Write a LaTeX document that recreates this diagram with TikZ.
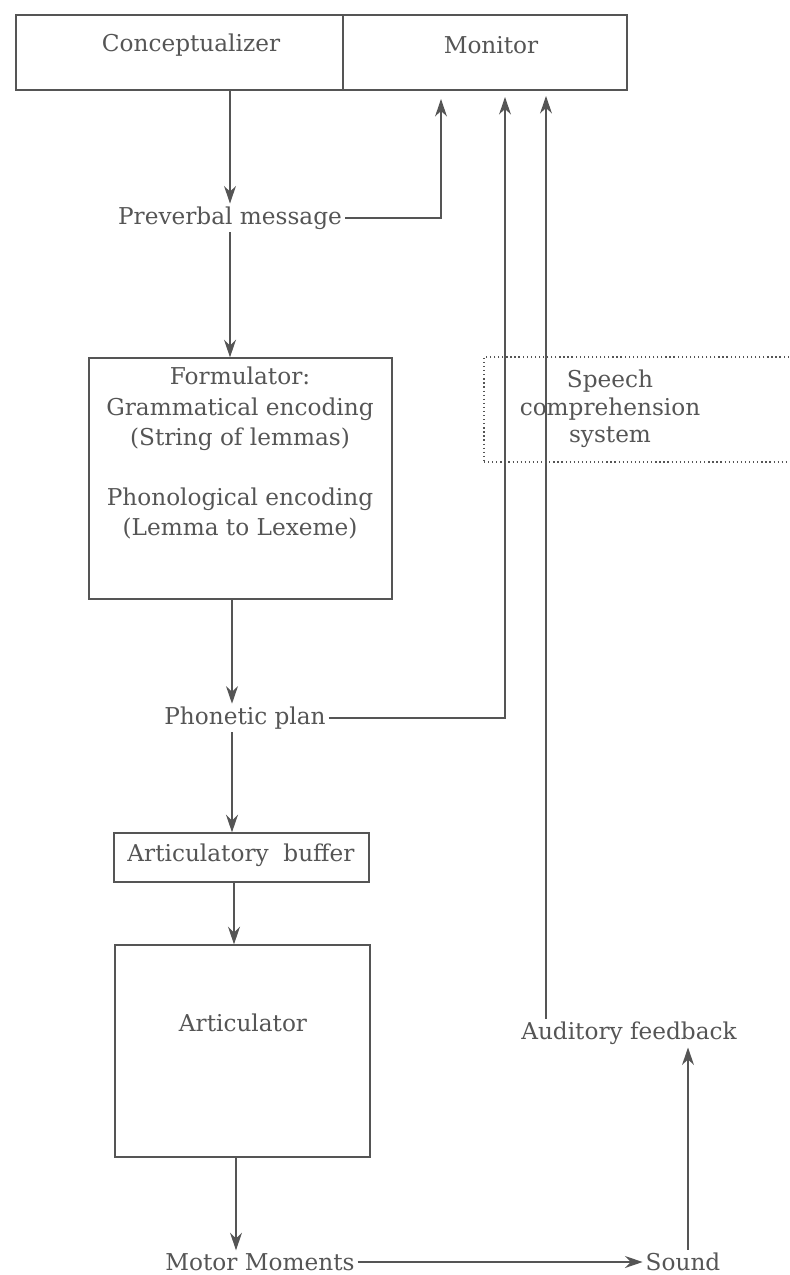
\documentclass[tikz,border=0pt]{standalone}
\usepackage{fontspec}
\setmainfont{DejaVu Serif}
\usetikzlibrary{arrows.meta}
\definecolor{ink}{HTML}{555555}
\begin{document}
\begin{tikzpicture}[x=0.025cm,y=-0.025cm,
  every node/.style={text=ink, font=\fontsize{16.5}{21.5}\selectfont},
  box/.style={draw=ink, line width=0.9pt, rectangle, inner sep=0pt},
  label/.style={inner sep=2pt, align=center},
  link/.style={draw=ink, line width=0.9pt},
  flow/.style={link, -{Stealth[length=12.5pt,width=8.5pt]}},
]
\useasboundingbox (0,0) rectangle (789,1275);

% boxes
\node[box, minimum width=8.175cm, minimum height=1.875cm] (concept) at (179.5,52.5) {};
\node[box, minimum width=7.1cm, minimum height=1.875cm] (monitor) at (485,52.5) {};
\node[box, minimum width=7.575cm, minimum height=6.025cm] (form) at (240.5,478.5) {};
\node[box, minimum width=6.375cm, minimum height=1.225cm] (buf) at (241.5,857.5) {};
\node[box, minimum width=6.375cm, minimum height=5.3cm] (art) at (242.5,1051) {};
\node[box, dotted, line width=1pt, minimum width=7.9cm, minimum height=2.625cm] (speech) at (642,409.5) {};

% box texts
\node[label] (conceptT) at (191,45) {Conceptualizer};
\node[label] (monitorT) at (491,45) {Monitor};
\node[label] (formT) at (240,453) {Formulator:\\Grammatical encoding\\(String of lemmas)\\[21pt]Phonological encoding\\(Lemma to Lexeme)};
\node[label, font=\fontsize{16.5}{19.5}\selectfont] (speechT) at (610,409) {Speech\\comprehension\\system};
\node[label] (bufT) at (241,855) {Articulatory\ \ buffer};
\node[label] (artT) at (243,1023) {Articulator};

% free labels
\node[label] (pre) at (230,218) {Preverbal message};
\node[label] (phon) at (245,718) {Phonetic plan};
\node[label] (motor) at (260,1262) {Motor Moments};
\node[label] (sound) at (683,1262) {Sound};
\node[label] (aud) at (629,1033) {Auditory feedback};

% x positions of vertical connectors
\coordinate (c1) at (232,0);
\coordinate (c2) at (234,0);
\coordinate (c3) at (236,0);
\coordinate (sx) at (688,0);
\coordinate (ax) at (546,0);
\coordinate (m1) at (441,99);
\coordinate (m2) at (505,97);
\coordinate (m3) at (546,96);

% main chain
\draw[flow] (concept.south -| pre) -- (pre.north);
\draw[flow] (pre.south) -- (form.north -| pre);
\draw[flow] (form.south -| c1) -- (phon.north -| c1);
\draw[flow] (phon.south -| c1) -- (buf.north -| c1);
\draw[flow] (buf.south -| c2) -- (art.north -| c2);
\draw[flow] (art.south -| c3) -- (motor.north -| c3);
\draw[flow] (motor.east) -- (sound.west);
\draw[flow] (sound.north -| sx) -- (aud.south -| sx);

% feedback to the monitor
\draw[flow] (pre.east) -| (m1);
\draw[flow] (phon.east) -| (m2);
\draw[flow] (aud.north -| ax) -- (m3);
\end{tikzpicture}
\end{document}
